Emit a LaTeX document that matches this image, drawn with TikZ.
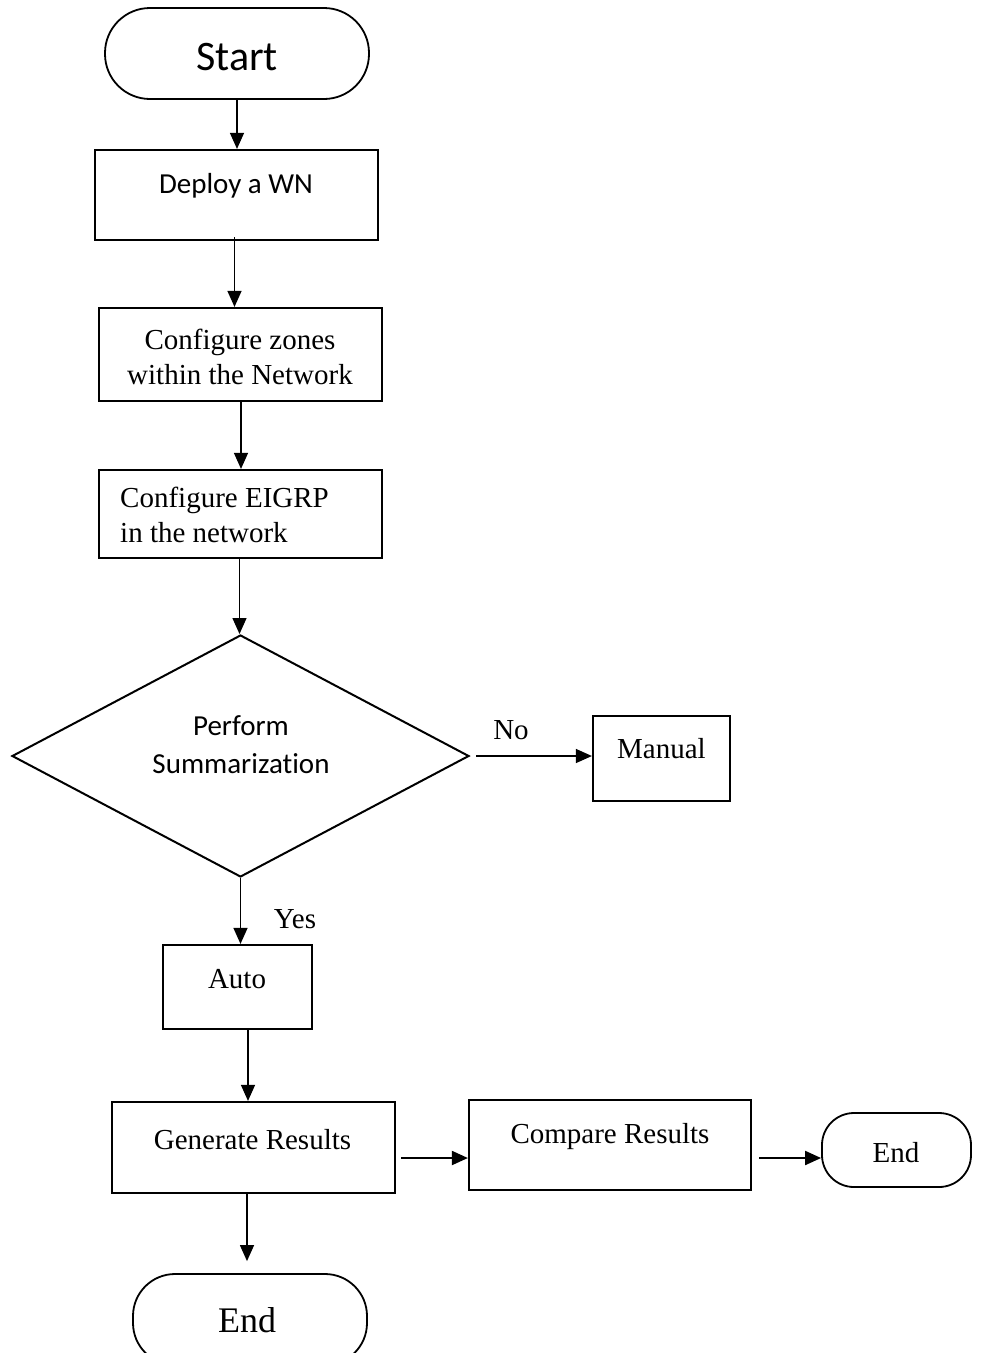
\documentclass[tikz,border=0pt]{standalone}
\usepackage{fontspec}
\setmainfont{Liberation Serif}
\newfontfamily\calib[Ligatures=NoCommon]{Carlito}
\usetikzlibrary{arrows.meta,shapes.geometric}
\begin{document}
\begin{tikzpicture}[x=1pt,y=-1pt,
  box/.style={draw, line width=2.2pt, inner sep=0pt},
  term/.style={draw, line width=1.8pt, inner sep=0pt},
  txt/.style={inner sep=0pt, font=\fontsize{29}{35}\selectfont},
  stxt/.style={inner sep=0pt, font=\calib\fontsize{29}{38}\selectfont},
  arr/.style={line width=1.3pt, -{Triangle[length=16pt,width=14pt]}},
  harr/.style={line width=2pt, -{Triangle[length=16pt,width=14pt]}}]
\useasboundingbox (0,0) rectangle (981,1353);
\clip (0,0) rectangle (981,1353);
% shapes
\node[term, rounded corners=45pt, minimum width=264pt, minimum height=91pt] (start) at (237,53.5) {};
\node[box, minimum width=283pt, minimum height=90pt] (deploy) at (236.5,195) {};
\node[box, minimum width=283pt, minimum height=93pt] (zones) at (240.5,354.5) {};
\node[box, minimum width=283pt, minimum height=88pt] (eigrp) at (240.5,514) {};
\node[diamond, draw, line width=2pt, inner sep=0pt, minimum width=457pt, minimum height=242pt] (dec) at (240.5,756) {};
\node[box, minimum width=137pt, minimum height=85pt] (manual) at (661.5,758.5) {};
\node[box, minimum width=149pt, minimum height=84pt] (auto) at (237.5,987) {};
\node[box, minimum width=283pt, minimum height=91pt] (gen) at (253.5,1147.5) {};
\node[box, minimum width=282pt, minimum height=90pt] (cmp) at (610,1145) {};
\node[term, rounded corners=32pt, minimum width=149pt, minimum height=74pt] (endB) at (896.5,1150) {};
\node[term, rounded corners=42pt, minimum width=234pt, minimum height=91pt] (endA) at (250,1319.5) {};
% texts
\node[inner sep=0pt, font=\calib\fontsize{42}{48}\selectfont] (startT) at (237,57) {Start};
\node[stxt] (deployT) at (236,186) {Deploy a WN};
\node[txt, align=center] (zonesT) at (240,357) {Configure zones\\within the Network};
\node[txt, align=left, anchor=west] (eigrpT) at (120,515) {Configure EIGRP\\in the network};
\node[stxt, align=center] (decT) at (241,745) {Perform\\Summarization};
\node[txt] (manualT) at (661.5,749) {Manual};
\node[txt] (autoT) at (237,979) {Auto};
\node[txt] (genT) at (252.5,1140) {Generate Results};
\node[txt] (cmpT) at (610,1137) {Compare Results};
\node[txt] (endBT) at (896,1153) {End};
\node[inner sep=0pt, font=\fontsize{36}{40}\selectfont] (endAT) at (247,1320) {End};
\node[txt] (noT) at (511,730) {No};
\node[txt] (yesT) at (295,919) {Yes};
% connectors
\draw[arr] (start.south) -- (start.south |- deploy.north);
\draw[arr, shorten <=-4pt] ([xshift=-2pt]deploy.south) -- ([xshift=-2pt]deploy.south |- zones.north);
\draw[arr] ([xshift=0.5pt]zones.south) -- ([xshift=0.5pt]zones.south |- eigrp.north);
\draw[arr] ([xshift=-1pt]eigrp.south) -- ([xshift=-1pt]eigrp.south |- dec.north);
\draw[harr, line width=1.3pt, shorten <=6pt] (dec.east) -- (dec.east -| manual.west);
\draw[arr] (dec.south) -- (dec.south |- auto.north);
\draw[arr] ([xshift=10.5pt]auto.south) -- ([xshift=10.5pt]auto.south |- gen.north);
\draw[harr, shorten <=5pt] ([yshift=-10.5pt]gen.east) -- ([yshift=-10.5pt]gen.east -| cmp.west);
\draw[harr, shorten <=7pt] ([yshift=-13pt]cmp.east) -- ([yshift=-13pt]cmp.east -| endB.west);
\draw[arr, shorten >=12pt] ([xshift=-6.5pt]gen.south) -- ([xshift=-6.5pt]gen.south |- endA.north);
\end{tikzpicture}
\end{document}
